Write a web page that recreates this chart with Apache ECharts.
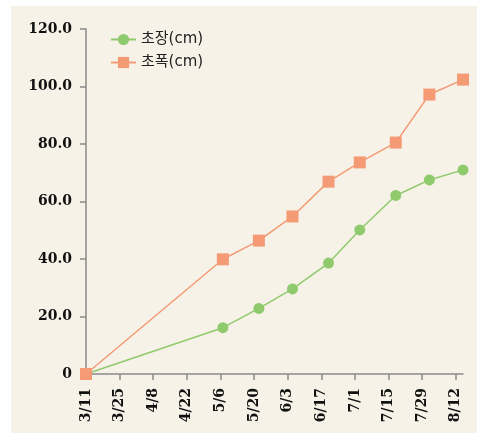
<!DOCTYPE html>
<html><head><meta charset="utf-8">
<script src="https://cdn.jsdelivr.net/npm/echarts@6/dist/echarts.min.js"></script>
<style>
html,body{margin:0;padding:0;background:#ffffff;}
#c{position:absolute;left:11px;top:6px;width:466px;height:427px;}
</style></head>
<body><div id="c"></div>
<script>
// data
const dates = ['3/11','5/7','5/22','6/5','6/20','7/3','7/18','8/1','8/15'];
const lengthCm = [0, 16.1, 22.8, 29.6, 38.6, 50.1, 62.1, 67.5, 71.0];
const widthCm  = [0, 39.9, 46.4, 54.8, 66.9, 73.6, 80.5, 97.2, 102.4];
const tickLabels = ['3/11','3/25','4/8','4/22','5/6','5/20','6/3','6/17','7/1','7/15','7/29','8/12'];
const seriesNames = ['초장(cm)', '초폭(cm)'];

const YEAR = 2023;
function toDay(s){
  const p = s.split('/');
  const d = new Date(YEAR, +p[0]-1, +p[1]);
  const base = new Date(YEAR, 2, 11);
  return Math.round((d - base) / 86400000);
}
function fromDay(n){
  const base = new Date(YEAR, 2, 11);
  const d = new Date(base.getTime() + n*86400000);
  return (d.getMonth()+1) + '/' + d.getDate();
}
const tickDays = tickLabels.map(toDay);
const dataDays = dates.map(toDay);

const axisFont = {fontFamily:'DejaVu Serif', fontWeight:'bold', fontSize:14, color:'#111'};
const chart = echarts.init(document.getElementById('c'));
chart.setOption({
  backgroundColor:'#f6f2e8',
  animation:false,
  grid:{left:75,right:14,top:23,bottom:59,containLabel:false},
  legend:{
    orient:'vertical', left:94, top:21, itemGap:8, itemWidth:25, itemHeight:14,
    data:seriesNames,
    textStyle:{fontFamily:'DejaVu Sans, Noto Sans CJK KR', fontSize:15, color:'#222'}
  },
  xAxis:{
    type:'value', min:0, max:dataDays[dataDays.length-1],
    axisLine:{show:true, lineStyle:{color:'#8a8a8a', width:1.5}},
    axisTick:{show:true, length:6, customValues:tickDays, lineStyle:{color:'#8a8a8a', width:1.5}},
    axisLabel:Object.assign({customValues:tickDays, rotate:90, margin:14,
      formatter:v=>fromDay(v)}, axisFont),
    splitLine:{show:false}
  },
  yAxis:{
    type:'value', min:0, max:120, interval:20,
    axisLine:{show:true, lineStyle:{color:'#8a8a8a', width:1.5}},
    axisTick:{show:true, length:6, lineStyle:{color:'#8a8a8a', width:1.5}},
    axisLabel:Object.assign({margin:14, formatter:v=> v===0 ? '0' : v.toFixed(1)}, axisFont),
    splitLine:{show:false}
  },
  series:[
    {name:seriesNames[0], type:'line', symbol:'circle', symbolSize:11,
     itemStyle:{color:'#8fca6d'}, lineStyle:{color:'#8fca6d', width:1.5},
     data:dataDays.map((d,i)=>[d, lengthCm[i]])},
    {name:seriesNames[1], type:'line', symbol:'rect', symbolSize:12,
     itemStyle:{color:'#f49b76'}, lineStyle:{color:'#f49b76', width:1.5},
     data:dataDays.map((d,i)=>[d, widthCm[i]])}
  ]
});
</script></body></html>
